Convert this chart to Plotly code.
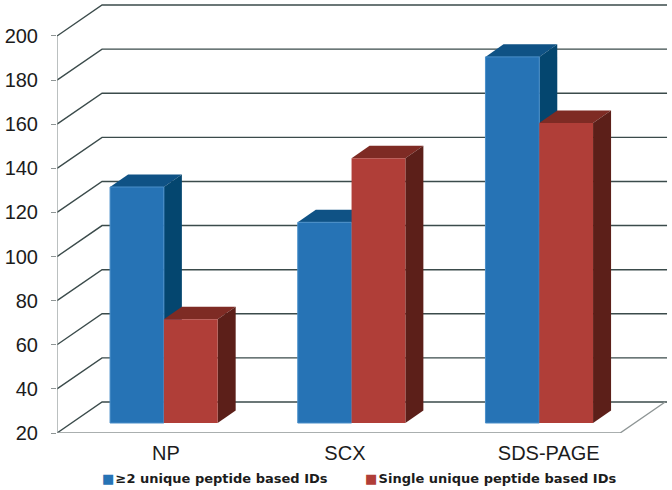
import plotly.graph_objects as go

categories = ["NP", "SCX", "SDS-PAGE"]
multi_peptide = [127, 111, 186]
single_peptide = [67, 140, 156]
tick_values = [20, 40, 60, 80, 100, 120, 140, 160, 180, 200]
series_names = ["≥2 unique peptide based IDs", "Single unique peptide based IDs"]
label_positions = [0.08, 1.034, 2.12]

# Pseudo-3D projection, in axis units
WALL_DX, WALL_DY = 0.24, 14.05
BAR_SHIFT_X, BAR_SHIFT_Y = 0.0693, 4.53
BAR_DX, BAR_DY = 0.096, 5.67
BAR_W = 0.2866
BASE = tick_values[0]
X_LO, X_HI = -0.5, 2.5

BLUE = ("#2673B5", "#04466F", "#0F5285")
RED = ("#B03E38", "#5C1F19", "#7E2B24")
GRID = "#3B4B4B"
AXIS = "#8E9595"

fig = go.Figure()


def line(xs, ys, color, width):
    fig.add_trace(go.Scatter(x=xs, y=ys, mode="lines", line=dict(color=color, width=width),
                             hoverinfo="skip", showlegend=False, cliponaxis=False))


def poly(xs, ys, color, name, edge=None):
    fig.add_trace(go.Scatter(x=xs + xs[:1], y=ys + ys[:1], mode="lines", fill="toself", fillcolor=color,
                             line=dict(color=edge or color, width=1 if edge else 0),
                             hoverinfo="skip", showlegend=False, name=name, cliponaxis=False))


# Walls
for v in tick_values:
    line([X_LO, X_LO + WALL_DX, X_HI + WALL_DX + 0.01], [v, v + WALL_DY, v + WALL_DY], GRID, 1.4)
line([X_LO, X_LO], [BASE, tick_values[-1]], AXIS, 1.2)
line([X_LO, X_HI, X_HI + WALL_DX], [BASE, BASE, BASE + WALL_DY], AXIS, 1.4)

# Bars
for i, cat in enumerate(categories):
    cx = i + BAR_SHIFT_X
    base = BASE + BAR_SHIFT_Y
    for value, side, (front, dark, top), name in (
        (multi_peptide[i], -1, BLUE, series_names[0]),
        (single_peptide[i], 0, RED, series_names[1]),
    ):
        x0 = cx + side * BAR_W
        x1 = x0 + BAR_W
        h = value - BASE + base
        poly([x0, x1, x1 + BAR_DX, x0 + BAR_DX], [h, h, h + BAR_DY, h + BAR_DY], top, name)
        poly([x1, x1 + BAR_DX, x1 + BAR_DX, x1], [base, base + BAR_DY, h + BAR_DY, h], dark, name)
        poly([x0, x1, x1, x0], [base, base, h, h], front, name,
             edge="#4A8FC9" if front == BLUE[0] else None)

fig.update_layout(
    width=672, height=490,
    margin=dict(l=57, r=0, t=0, b=57),
    paper_bgcolor="white", plot_bgcolor="white",
    showlegend=False,
    font=dict(family="Liberation Sans", size=20, color="#1c1c1c"),
    xaxis=dict(range=[X_LO, X_LO + 615 / 187.7], tickvals=label_positions, ticktext=categories,
               showgrid=False, zeroline=False, showline=False, ticks="", ticklabelstandoff=6, fixedrange=True),
    yaxis=dict(range=[BASE, BASE + 433 / 2.2056], tickvals=tick_values, showgrid=False, zeroline=False,
               showline=False, ticks="outside", ticklen=5, tickcolor=AXIS, tickwidth=1.2,
               ticklabelstandoff=9, fixedrange=True),
    annotations=[
        dict(xref="paper", yref="paper", x=(px - 57) / 615, y=-45 / 433, xanchor="left", yanchor="middle",
             showarrow=False, align="left",
             font=dict(family="DejaVu Sans", size=13, color="#1c1c1c", weight=600),
             text=f'<span style="color:{c}">■</span>\u200a{n}')
        for px, c, n in ((100, BLUE[0], series_names[0]), (363, RED[0], series_names[1]))
    ],
)
fig.write_html("out.html", config=dict(displayModeBar=False), post_script="document.body.style.margin='0';")
